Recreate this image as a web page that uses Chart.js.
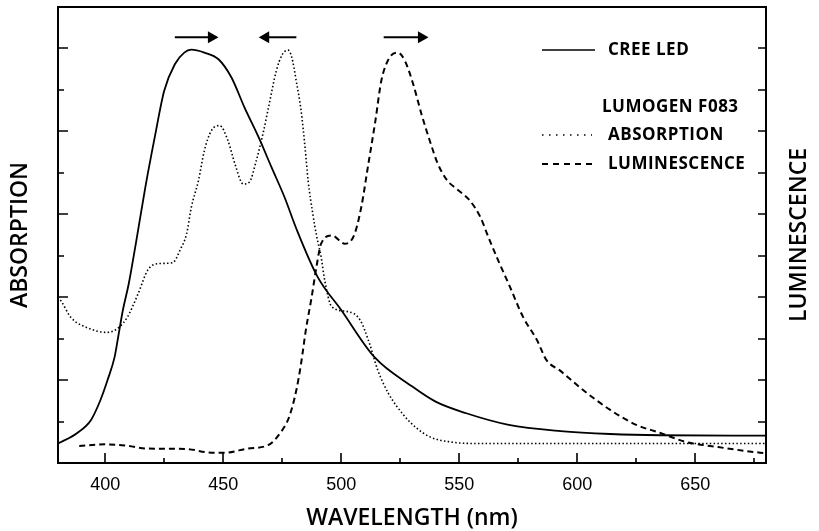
<!DOCTYPE html>
<html>
<head>
<meta charset="utf-8">
<script src="https://cdn.jsdelivr.net/npm/chart.js@4"></script>
<style>
  html, body { margin: 0; padding: 0; background: #fff; }
  #wrap { width: 819px; height: 531px; position: relative; }
</style>
</head>
<body>
<div id="wrap"><canvas id="chart"></canvas></div>
<script>
// wavelength (nm) / relative intensity
const ledNm = [380, 388, 394, 398, 401, 404, 405.5, 407.5, 410, 413, 417, 421, 425, 429.5, 433.5, 436.5, 442, 448, 453.5, 459, 465, 470.5, 476, 481, 490, 500, 514, 530, 540, 553, 571, 593, 614, 635, 680]
const ledVal = [0.47, 0.72, 1.04, 1.52, 2.0, 2.56, 3.04, 3.69, 4.33, 5.3, 6.65, 7.86, 8.98, 9.62, 9.9, 9.97, 9.9, 9.74, 9.3, 8.58, 7.86, 7.13, 6.41, 5.65, 4.49, 3.69, 2.56, 1.85, 1.48, 1.2, 0.92, 0.77, 0.7, 0.67, 0.66]

const absNm = [380, 381.5, 385.5, 392.5, 401, 406, 409.5, 414, 418, 422.5, 428.5, 432, 434.5, 436.5, 439.5, 442, 445, 448.5, 452, 455, 458.5, 461, 464, 467, 469.5, 472.5, 475, 477.5, 479, 481, 483, 484.7, 486, 488, 489.5, 491.5, 493, 496, 503, 508, 512, 515.5, 520, 527, 532, 538, 546, 557, 600, 680]
const absVal = [4.0, 3.89, 3.51, 3.26, 3.15, 3.28, 3.53, 4.09, 4.65, 4.81, 4.83, 5.17, 5.53, 6.17, 6.81, 7.53, 8.02, 8.14, 7.78, 7.21, 6.73, 6.77, 7.29, 7.98, 8.66, 9.46, 9.85, 9.96, 9.8, 9.2, 8.5, 7.6, 6.8, 6.0, 5.5, 4.97, 4.41, 3.77, 3.65, 3.45, 2.88, 2.24, 1.68, 1.12, 0.84, 0.62, 0.51, 0.47, 0.47, 0.47]

const lumNm = [389, 400, 410, 417, 434, 445, 451, 460.5, 469, 474.5, 478, 481, 483, 485, 487.5, 489.5, 491.5, 496, 501.5, 505.5, 508.5, 511.5, 514.5, 517, 520.5, 524, 527, 530.5, 534, 537.5, 541, 545, 549, 554.5, 559, 562, 566.5, 571.5, 577, 583, 587, 592.5, 602.5, 614, 625, 635, 646, 659, 677.5, 680]
const lumVal = [0.41, 0.45, 0.41, 0.35, 0.34, 0.25, 0.25, 0.35, 0.43, 0.75, 1.12, 1.76, 2.4, 3.2, 4.01, 4.73, 5.29, 5.49, 5.29, 5.5, 6.17, 7.21, 8.26, 9.22, 9.78, 9.9, 9.7, 9.14, 8.42, 7.78, 7.21, 6.81, 6.61, 6.33, 5.93, 5.5, 4.89, 4.25, 3.53, 2.96, 2.48, 2.24, 1.76, 1.28, 0.92, 0.73, 0.51, 0.39, 0.25, 0.24]

// peak-shift arrows: [tail, head]
const arrowLed = [429.5, 445]
const arrowAbs = [481, 468]
const arrowLum = [518, 534]
const arrowLevel = 10.27

const xMajor = [400, 450, 500, 550, 600, 650]
const xMinor = [425, 475, 525, 575, 625, 675]
const yTicks = [1, 2, 3, 4, 5, 6, 7, 8, 9, 10]

const titleFont = '600 23px "Open Sans"'
const legendFont = '700 17px "Open Sans"'

const pts = (xs, ys) => xs.map((x, i) => ({ x, y: ys[i] }))

function arrow(xs) {
  return {
    data: xs.map((x) => ({ x, y: arrowLevel })),
    borderColor: '#000',
    backgroundColor: '#000',
    borderWidth: 2,
    pointStyle: 'triangle',
    pointRadius: [0, 5],
    pointRotation: xs[1] > xs[0] ? 90 : -90,
    borderCapStyle: 'butt',
  }
}

const frame = {
  id: 'frame',
  afterDraw(chart) {
    const { ctx, chartArea: a, scales } = chart
    ctx.save()
    ctx.strokeStyle = '#000'
    ctx.lineWidth = 2
    ctx.beginPath()
    ctx.moveTo(a.left - 1, a.top)
    ctx.lineTo(a.right + 1, a.top)
    ctx.stroke()
    ctx.lineWidth = 1.6
    ctx.beginPath()
    xMajor.forEach((v) => {
      const p = Math.round(scales.x.getPixelForValue(v))
      ctx.moveTo(p, a.bottom); ctx.lineTo(p, a.bottom - 10)
    })
    xMinor.forEach((v) => {
      const p = Math.round(scales.x.getPixelForValue(v))
      ctx.moveTo(p, a.bottom); ctx.lineTo(p, a.bottom - 5)
    })
    yTicks.forEach((v) => {
      const p = Math.round(scales.y.getPixelForValue(v))
      ctx.moveTo(a.left, p); ctx.lineTo(a.left + (v % 2 === 0 ? 10 : 6), p)
      ctx.moveTo(a.right, p); ctx.lineTo(a.right - 8, p)
    })
    ctx.stroke()

    // legend
    ctx.fillStyle = '#000'
    ctx.font = legendFont
    ctx.letterSpacing = '0.5px'
    ctx.textBaseline = 'middle'
    const lx = a.right - 224
    const tx = a.right - 158
    ctx.lineWidth = 1.5
    ctx.beginPath(); ctx.moveTo(lx, 50); ctx.lineTo(lx + 53, 50); ctx.stroke()
    ctx.fillText('CREE LED', tx, 50)
    ctx.fillText('LUMOGEN F083', a.right - 164, 107)
    ctx.setLineDash([1.5, 5.5])
    ctx.beginPath(); ctx.moveTo(lx, 135); ctx.lineTo(lx + 50, 135); ctx.stroke()
    ctx.fillText('ABSORPTION', tx, 135)
    ctx.setLineDash([6, 5])
    ctx.lineWidth = 2
    ctx.beginPath(); ctx.moveTo(lx, 164); ctx.lineTo(lx + 52, 164); ctx.stroke()
    ctx.fillText('LUMINESCENCE', tx, 164)
    ctx.setLineDash([])

    // axis titles
    ctx.font = titleFont
    ctx.letterSpacing = '0px'
    ctx.textAlign = 'center'
    ctx.textBaseline = 'alphabetic'
    ctx.fillText('WAVELENGTH (nm)', (a.left + a.right) / 2, 525)
    const mid = (a.top + a.bottom) / 2
    ctx.translate(27, mid); ctx.rotate(-Math.PI / 2)
    ctx.fillText('ABSORPTION', 0, 0)
    ctx.setTransform(1, 0, 0, 1, 0, 0)
    ctx.translate(806, mid); ctx.rotate(-Math.PI / 2)
    ctx.fillText('LUMINESCENCE', 0, 0)
    ctx.restore()
  },
}

new Chart(document.getElementById('chart'), {
  type: 'line',
  data: {
    datasets: [
      {
        label: 'CREE LED',
        data: pts(ledNm, ledVal),
        borderColor: '#000',
        borderWidth: 1.8,
        pointRadius: 0,
        cubicInterpolationMode: 'monotone',
      },
      {
        label: 'ABSORPTION',
        data: pts(absNm, absVal),
        borderColor: '#000',
        borderWidth: 1.6,
        borderDash: [1.5, 2.3],
        pointRadius: 0,
        cubicInterpolationMode: 'monotone',
      },
      {
        label: 'LUMINESCENCE',
        data: pts(lumNm, lumVal),
        borderColor: '#000',
        borderWidth: 2,
        borderDash: [6, 4],
        pointRadius: 0,
        cubicInterpolationMode: 'monotone',
      },
      arrow(arrowLed),
      arrow(arrowAbs),
      arrow(arrowLum),
    ],
  },
  options: {
    responsive: true,
    maintainAspectRatio: false,
    animation: false,
    events: [],
    layout: { padding: { top: 7 } },
    plugins: { legend: { display: false }, tooltip: { enabled: false } },
    scales: {
      x: {
        type: 'linear',
        min: 380,
        max: 680,
        afterBuildTicks: (s) => { s.ticks = xMajor.map((v) => ({ value: v })) },
        afterFit: (s) => { s.height = 68 },
        grid: { drawOnChartArea: false, drawTicks: false },
        border: { color: '#000', width: 2 },
        ticks: {
          padding: 11,
          color: '#000',
          font: { family: 'Liberation Sans', size: 18 },
          maxRotation: 0,
        },
      },
      y: {
        min: 0,
        max: 11,
        afterFit: (s) => { s.width = 58 },
        grid: { drawOnChartArea: false, drawTicks: false },
        border: { color: '#000', width: 2 },
        ticks: { display: false },
      },
      y2: {
        position: 'right',
        min: 0,
        max: 11,
        afterFit: (s) => { s.width = 53 },
        grid: { drawOnChartArea: false, drawTicks: false },
        border: { color: '#000', width: 2 },
        ticks: { display: false },
      },
    },
  },
  plugins: [frame],
})
</script>
</body>
</html>
